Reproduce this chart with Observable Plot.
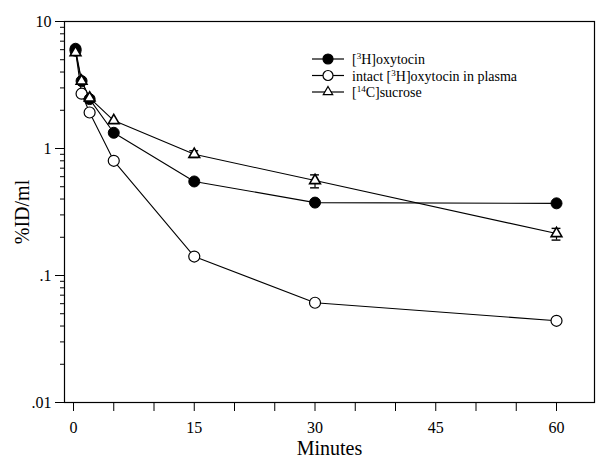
<!DOCTYPE html>
<html>
<head>
<meta charset="utf-8">
<script src="https://cdn.jsdelivr.net/npm/d3@7"></script>
<script src="https://cdn.jsdelivr.net/npm/@observablehq/plot@0.6"></script>
<style>
  html, body { margin: 0; padding: 0; background: #fff; }
  #chart svg { font-family: "Liberation Serif", "DejaVu Serif", serif; }
</style>
</head>
<body>
<div id="chart"></div>
<script>
const minutes = [0.25, 1, 2, 5, 15, 30, 60];
const oxytocin = [6.1, 3.4, 2.45, 1.33, 0.55, 0.375, 0.37];
const intact = [5.9, 2.7, 1.92, 0.8, 0.141, 0.061, 0.044];
const sucrose = [5.7, 3.4, 2.5, 1.66, 0.9, 0.56, 0.214];
const errMinutes = [15, 30, 60];
const sucroseLow = [0.85, 0.49, 0.19];
const sucroseHigh = [0.96, 0.62, 0.235];
const xTicks = [0, 5, 10, 15, 20, 25, 30, 35, 40, 45, 50, 55, 60];
const xLabels = [0, 15, 30, 45, 60];
const yTicks = [10, 1, 0.1, 0.01];
const yTickLabels = ["10", "1", ".1", ".01"];

const rows = (vals) => minutes.map((t, i) => ({t, v: vals[i]}));
const oxy = rows(oxytocin), intc = rows(intact), suc = rows(sucrose);
const errs = errMinutes.map((t, i) => ({t, lo: sucroseLow[i], hi: sucroseHigh[i]}));

const minor = [];
for (let e = -2; e < 1; e++) for (let k = 2; k <= 9; k++) minor.push(k * Math.pow(10, e));

const plot = Plot.plot({
  width: 596,
  height: 460,
  marginLeft: 64,
  marginRight: 2,
  marginTop: 21,
  marginBottom: 58,
  style: {fontFamily: "Liberation Serif, serif", color: "#000", background: "#fff"},
  x: {domain: [-1.12, 64.72]},
  y: {type: "log", domain: [0.01, 10]},
  marks: [
    Plot.frame({stroke: "#000", strokeWidth: 1.2}),
    Plot.axisY({ticks: minor, tickSize: 4, tickFormat: () => "", label: null, strokeWidth: 1}),
    Plot.axisY({ticks: yTicks, tickSize: 9, tickPadding: 4, fontSize: 16, label: null,
      tickFormat: d => yTickLabels[yTicks.indexOf(d)] ?? ""}),
    Plot.axisX({ticks: xTicks, tickSize: 9, tickPadding: 10, fontSize: 16, label: null,
      tickFormat: d => xLabels.includes(d) ? String(d) : ""}),
    Plot.axisX({ticks: [], label: "Minutes", labelAnchor: "center", labelArrow: "none",
      labelOffset: 52, fontSize: 20}),
    Plot.axisY({ticks: [], label: "%ID/ml", labelAnchor: "center", labelArrow: "none",
      labelOffset: 50, fontSize: 20}),
    Plot.line(intc, {x: "t", y: "v", stroke: "#000", strokeWidth: 1.1}),
    Plot.line(oxy, {x: "t", y: "v", stroke: "#000", strokeWidth: 1.1}),
    Plot.line(suc, {x: "t", y: "v", stroke: "#000", strokeWidth: 1.1}),
    Plot.ruleX(errs, {x: "t", y1: "lo", y2: "hi", stroke: "#000", strokeWidth: 1.2}),
    Plot.ruleY(errs, {y: "lo", x1: d => d.t - 0.55, x2: d => d.t + 0.55, stroke: "#000", strokeWidth: 1.4}),
    Plot.ruleY(errs, {y: "hi", x1: d => d.t - 0.55, x2: d => d.t + 0.55, stroke: "#000", strokeWidth: 1.4}),
    Plot.dot(intc, {x: "t", y: "v", r: 5.5, fill: "#fff", stroke: "#000", strokeWidth: 1.2}),
    Plot.dot(oxy, {x: "t", y: "v", r: 5.5, fill: "#000", stroke: "#000", strokeWidth: 1}),
    Plot.dot(suc, {x: "t", y: "v", r: 4, symbol: "triangle", fill: "#fff", stroke: "#000", strokeWidth: 1.6})
  ]
});
document.getElementById("chart").appendChild(plot);

// Legend inside the SVG (upper middle-right)
const svg = d3.select(plot);
const lg = svg.append("g").attr("transform", "translate(312,59)")
  .attr("font-family", "Liberation Serif, serif").attr("font-size", 14)
  .attr("fill", "#000").attr("text-anchor", "start");
const entries = [
  {sym: d3.symbolCircle, size: 5 * 5 * Math.PI, fill: "#000", parts: [["[", false], ["3", true], ["H]oxytocin", false]]},
  {sym: d3.symbolCircle, size: 5 * 5 * Math.PI, fill: "#fff", parts: [["intact [", false], ["3", true], ["H]oxytocin in plasma", false]]},
  {sym: d3.symbolTriangle, size: 3.5 * 3.5 * Math.PI, fill: "#fff", parts: [["[", false], ["14", true], ["C]sucrose", false]]}
];
entries.forEach((e, i) => {
  const g = lg.append("g").attr("transform", `translate(0,${i * 16.5})`);
  g.append("line").attr("x1", 0).attr("x2", 32).attr("y1", 0).attr("y2", 0).attr("stroke", "#000").attr("stroke-width", 1.2);
  g.append("path").attr("d", d3.symbol(e.sym, e.size)()).attr("transform", "translate(16,0)")
    .attr("fill", e.fill).attr("stroke", "#000").attr("stroke-width", 1.2);
  const t = g.append("text").attr("x", 40).attr("y", 5).attr("text-anchor", "start");
  e.parts.forEach(([s, sup], j) => {
    const ts = t.append("tspan").text(s);
    if (sup) ts.attr("font-size", 9).attr("dy", -5);
    else if (j > 0) ts.attr("dy", 5);
  });
});
</script>
</body>
</html>
